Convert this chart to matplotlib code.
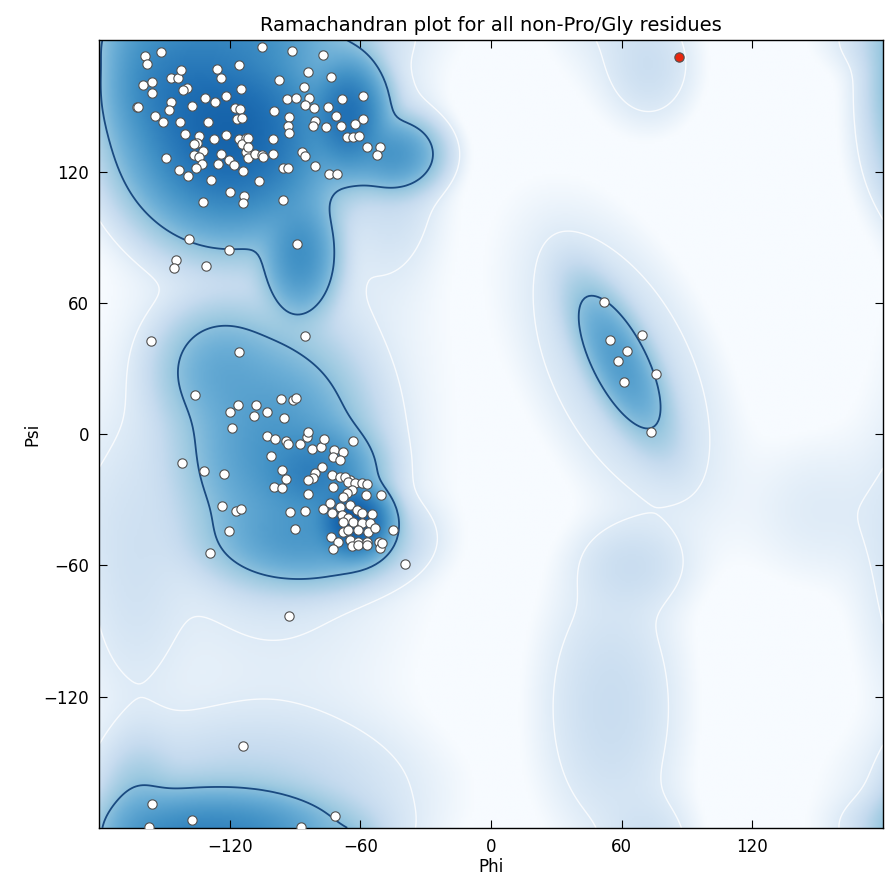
import numpy as np
import matplotlib
matplotlib.use("Agg")
import matplotlib.pyplot as plt

# ---------------- data (phi, psi in degrees) ----------------
phi = [
 -158.9,-157.8,-151.7,-159.7,-155.8,-155.5,-147.1,-143.7,-142.5,-139.5,-141.4,-125.7,-123.8,-115.7,-114.9,
 -131.5,-126.7,-121.8,-162.7,-162.1,-146.8,-147.9,-137.2,-154.3,-150.6,-142.7,-130.0,-117.6,-115.4,-116.5,
 -114.2,-140.5,-134.1,-134.9,-136.4,-127.2,-121.8,-115.7,-112.6,-114.2,
 -105.3,-91.5,-77.3,-84.2,-97.3,-73.5,-85.7,-93.8,-89.5,-83.6,-85.4,-81.3,-68.6,-58.6,-99.5,-74.7,-71.3,
 -92.6,-93.1,-92.6,-80.8,-81.6,-75.8,-68.9,-62.4,-58.6,-66.0,-63.2,-60.5,-100.0,-111.4,-57.1,-51.0,
 -112.6,-132.1,-136.4,-134.1,-132.8,-149.1,-123.8,-120.3,-118.0,-125.2,-113.9,-143.3,-139.0,-135.3,-128.7,
 -119.8,-113.4,-113.7,-132.1,-138.7,-120.3,-144.8,-145.6,-131.0,
 -111.4,-108.4,-105.3,-104.6,-100.0,-86.9,-85.4,-95.4,-93.4,-80.8,-74.3,-70.9,-52.5,-106.4,-95.4,-89.2,-111.6,
 -85.4,-115.7,-135.9,-116.0,-119.8,-107.9,-108.7,-102.7,-96.4,-90.8,-89.5,-94.9,-118.8,-103.0,-99.0,-94.1,
 -93.1,-87.7,-84.6,-83.9,-156.1,
 -63.5,-82.3,-78.2,-76.7,-72.0,-68.1,-72.4,-69.3,-77.7,-80.8,-81.6,-73.1,-69.3,-64.7,
 -83.9,-67.0,-65.5,-62.4,-59.4,-57.1,-72.4,-64.0,-66.3,-67.8,-57.4,-50.7,-83.9,-92.3,-85.4,-77.3,-73.9,
 -73.1,-69.3,-64.7,-61.7,-59.4,-54.8,-68.6,-65.5,-67.8,-63.2,-59.4,-55.6,-90.0,-44.9,-67.8,-65.5,-60.9,
 -56.3,-53.3,-73.6,-70.1,-64.7,-60.9,-57.1,-51.3,-64.0,-60.9,-57.1,-72.7,-51.0,-50.2,-39.5,
 -142.0,-131.6,-122.5,-101.0,-95.8,-94.1,-99.5,-96.1,-123.7,-117.1,-114.9,-120.3,-129.0,
 52.0,69.2,54.6,62.3,58.5,75.8,61.2,73.3,
 -113.9,-155.5,-157.0,-137.2,-87.4,-71.8,-92.8,
]
psi = [
 173.0,169.0,174.8,159.6,161.1,155.8,162.6,162.6,166.3,158.4,157.3,166.9,162.6,168.7,157.8,
 153.5,152.0,154.7,149.7,149.4,152.0,148.3,149.8,145.6,142.5,142.5,142.5,148.9,148.6,144.0,
 144.7,137.2,136.1,132.9,132.5,134.8,136.7,134.8,135.2,132.5,
 176.9,175.3,173.3,165.4,162.0,163.2,158.8,153.0,153.5,153.5,150.4,148.9,153.0,154.7,147.9,149.4,145.6,
 145.1,141.0,137.5,142.9,140.7,140.4,140.7,141.9,144.0,135.7,135.7,136.1,134.8,135.5,131.0,131.4,
 129.0,129.3,127.5,126.7,123.4,126.0,127.8,125.2,122.9,123.4,120.2,120.9,117.9,121.4,116.0,
 110.7,108.7,105.4,106.1,89.1,84.1,79.5,76.0,76.9,
 126.0,128.2,127.5,126.7,128.2,129.0,127.1,121.4,121.8,122.4,119.1,119.1,127.5,115.6,106.9,86.8,131.0,
 44.8,37.5,18.0,13.2,10.2,13.2,8.4,10.2,15.9,15.5,16.6,7.4,2.6,-0.9,-2.4,-3.2,
 -4.6,-4.6,-1.2,1.1,42.5,
 -3.2,-7.0,-5.8,-2.3,-7.3,-8.1,-10.6,-11.9,-15.2,-18.0,-20.2,-18.7,-19.5,-21.0,
 -21.0,-19.5,-21.8,-22.5,-22.5,-22.8,-24.1,-25.6,-27.1,-28.6,-27.9,-27.9,-27.5,-35.5,-35.0,-34.4,-31.4,
 -36.2,-33.2,-32.4,-34.7,-36.2,-36.5,-37.0,-38.5,-40.1,-40.1,-40.8,-40.8,-43.4,-43.9,-44.6,-43.9,-43.9,
 -44.6,-43.1,-47.2,-49.2,-48.4,-49.2,-49.2,-49.2,-51.2,-50.7,-50.7,-52.7,-52.2,-49.9,-59.4,
 -13.4,-16.9,-18.4,-9.9,-16.4,-20.7,-24.1,-24.5,-32.9,-35.0,-34.4,-44.3,-54.2,
 60.2,45.2,42.9,38.1,33.5,27.4,23.9,1.1,
 -142.5,-169.0,-179.7,-176.3,-179.4,-174.8,-83.1,
]
outlier_phi = [86.3]
outlier_psi = [172.2]

# reference density: gaussian components (phi0, psi0, sigma_major, sigma_minor, angle, weight)
comp_phi  = [-120,  -66,  -45,  -88, -122, -145,  -63,  -80, -100,  -85, -125,   59,   60,   55,   65,   73,  150, -100,  -45, -110, -165, -162]
comp_psi  = [ 138,  146,  128,   82,  180,  160,  -40,  -18,   -6,  -48,   30,   33,   30, -125,  -60,  168,  -35,    0,  120, -165,  -60,  172]
comp_smaj = [  20,   12,   10,   13,   25,   14,    7,   12,   24,   20,   14,   19,   40,   35,   15,   15,   20,   80,   25,   40,   15,   20]
comp_smin = [  20,    8,    8,    8,    8,   14,    7,   10,   19,   10,   14,    7,   20,   18,   12,   12,   20,   40,   12,   20,   40,    9]
comp_ang  = [   0,   90,    0,   90,    0,    0,    0,    0,   90,    0,    0,  -63,  -64,   90,    0,   90,    0,   90,   90,    0,    0,   90]
comp_w    = [ 1.0,  0.6, 0.15,  0.2, 0.15,  0.3,  1.5,  0.3, 0.15, 0.12, 0.06, 0.12,0.006,0.005,0.004,0.004,0.0015,0.003,0.005,0.008,0.003, 0.05]
background = 0.0003
favored_level = 0.03
allowed_level = 0.002

# ---------------- density grid ----------------
g = np.linspace(-180, 180, 361)
PH, PS = np.meshgrid(g, g)
dens = np.full_like(PH, background)
for p0, s0, a, b, ang, w in zip(comp_phi, comp_psi, comp_smaj, comp_smin, comp_ang, comp_w):
    t = np.deg2rad(ang)
    for dx in (-360, 0, 360):
        for dy in (-360, 0, 360):
            X = PH - (p0 + dx)
            Y = PS - (s0 + dy)
            u = X * np.cos(t) + Y * np.sin(t)
            v = -X * np.sin(t) + Y * np.cos(t)
            dens += w * np.exp(-0.5 * ((u / a) ** 2 + (v / b) ** 2))
logd = np.log10(dens)

# ---------------- plot ----------------
fig = plt.figure(figsize=(8.92, 8.76), dpi=100)
ax = fig.add_axes([0.111, 0.055, 0.879, 0.899])
ax.imshow(logd, extent=(-180, 180, -180, 180), origin="lower", cmap="Blues",
          vmin=-3.2, vmax=0.8, interpolation="bilinear", aspect="auto")
ax.contour(PH, PS, dens, levels=[allowed_level], colors=["white"], linewidths=1.0, alpha=0.8)
ax.contour(PH, PS, dens, levels=[favored_level], colors=["#1a4a80"], linewidths=1.3)
ax.scatter(phi, psi, s=45, facecolor="white", edgecolor="#505050", linewidths=0.8, zorder=3)
ax.scatter(outlier_phi, outlier_psi, s=45, facecolor="#e8260f", edgecolor="#505050", linewidths=0.8, zorder=3)

ax.set_xlim(-180, 180)
ax.set_ylim(-180, 180)
ax.set_xticks([-120, -60, 0, 60, 120])
ax.set_yticks([-120, -60, 0, 60, 120])
ax.tick_params(direction="in", top=True, right=True, length=6, labelsize=12, pad=7)
ax.set_xlabel("Phi", fontsize=12, labelpad=2)
ax.set_ylabel("Psi", fontsize=12, labelpad=2)
ax.set_title("Ramachandran plot for all non-Pro/Gly residues", fontsize=14, pad=7)
for s in ax.spines.values():
    s.set_linewidth(1.0)
fig.savefig("out.png", dpi=100)
